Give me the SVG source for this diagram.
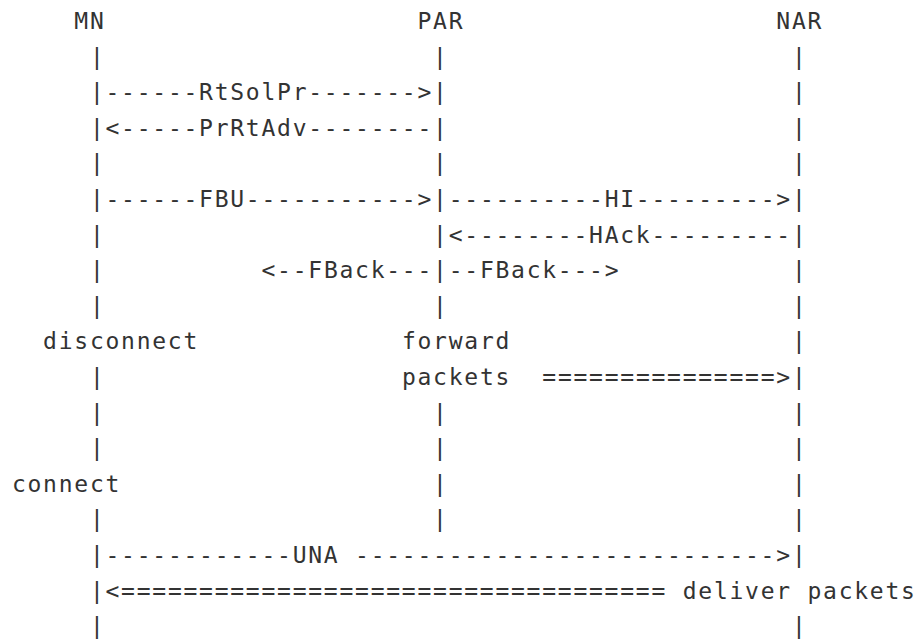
<svg xmlns="http://www.w3.org/2000/svg" width="921" height="639" viewBox="0 0 921 639" xml:space="preserve">
<style>
text{font-family:"DejaVu Sans Mono","Liberation Mono",monospace;font-size:23px;letter-spacing:1.75px;fill:#333;white-space:pre}
</style>
<rect width="921" height="639" fill="#fff"/>
<g id="MN">
<text x="74.3" y="29">MN</text>
<text x="89.9" y="64.6">|</text>
<text x="89.9" y="100.2">|</text>
<text x="89.9" y="135.8">|</text>
<text x="89.9" y="171.4">|</text>
<text x="89.9" y="207">|</text>
<text x="89.9" y="242.6">|</text>
<text x="89.9" y="278.2">|</text>
<text x="89.9" y="313.8">|</text>
<text x="43.1" y="349.4">disconnect</text>
<text x="89.9" y="385">|</text>
<text x="89.9" y="420.6">|</text>
<text x="89.9" y="456.2">|</text>
<text x="11.9" y="491.8">connect</text>
<text x="89.9" y="527.4">|</text>
<text x="89.9" y="563">|</text>
<text x="89.9" y="598.6">|</text>
<text x="89.9" y="634.2">|</text>
</g>
<g id="PAR">
<text x="417.5" y="29">PAR</text>
<text x="433.1" y="64.6">|</text>
<text x="433.1" y="100.2">|</text>
<text x="433.1" y="135.8">|</text>
<text x="433.1" y="171.4">|</text>
<text x="433.1" y="207">|</text>
<text x="433.1" y="242.6">|</text>
<text x="433.1" y="278.2">|</text>
<text x="433.1" y="313.8">|</text>
<text x="401.9" y="349.4">forward</text>
<text x="401.9" y="385">packets</text>
<text x="433.1" y="420.6">|</text>
<text x="433.1" y="456.2">|</text>
<text x="433.1" y="491.8">|</text>
<text x="433.1" y="527.4">|</text>
</g>
<g id="NAR">
<text x="776.3" y="29">NAR</text>
<text x="791.9" y="64.6">|</text>
<text x="791.9" y="100.2">|</text>
<text x="791.9" y="135.8">|</text>
<text x="791.9" y="171.4">|</text>
<text x="791.9" y="207">|</text>
<text x="791.9" y="242.6">|</text>
<text x="791.9" y="278.2">|</text>
<text x="791.9" y="313.8">|</text>
<text x="791.9" y="349.4">|</text>
<text x="791.9" y="385">|</text>
<text x="791.9" y="420.6">|</text>
<text x="791.9" y="456.2">|</text>
<text x="791.9" y="491.8">|</text>
<text x="791.9" y="527.4">|</text>
<text x="791.9" y="563">|</text>
<text x="791.9" y="634.2">|</text>
</g>
<g id="connectors">
<text x="105.5" y="100.2">------RtSolPr-------&gt;</text>
<text x="105.5" y="135.8">&lt;-----PrRtAdv--------</text>
<text x="105.5" y="207">------FBU-----------&gt;</text>
<text x="448.7" y="207">----------HI---------&gt;</text>
<text x="448.7" y="242.6">&lt;--------HAck---------</text>
<text x="261.5" y="278.2">&lt;--FBack---</text>
<text x="448.7" y="278.2">--FBack---&gt;</text>
<text x="542.3" y="385">===============&gt;</text>
<text x="105.5" y="563">------------UNA ---------------------------&gt;</text>
<text x="105.5" y="598.6">&lt;===================================</text>
<text x="682.7" y="598.6">deliver packets</text>
</g>
</svg>
